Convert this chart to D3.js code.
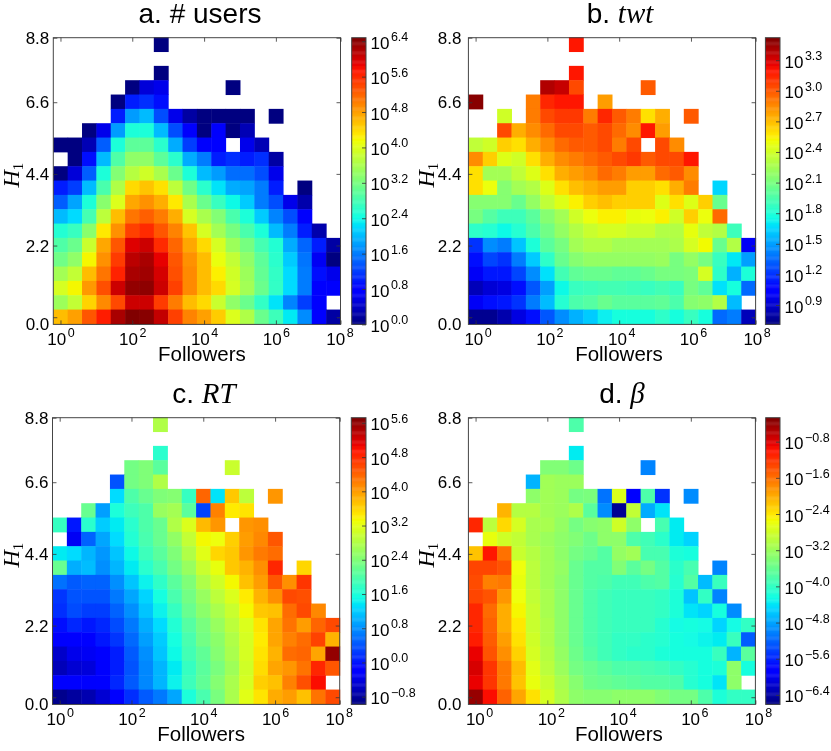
<!DOCTYPE html>
<html><head><meta charset="utf-8">
<script src="https://cdnjs.cloudflare.com/ajax/libs/d3/7.8.5/d3.min.js"></script>
<style>html,body{margin:0;background:#fff}svg{display:block}</style></head>
<body><svg id="c" width="831" height="751"></svg>
<script>
const _ = null;
// log10 values, rows from top (H1 8.36-8.8) to bottom (0-0.44), 20 follower bins
const usersLog = [
[_,_,_,_,_,_,_,0,_,_,_,_,_,_,_,_,_,_,_,_],
[_,_,_,_,_,_,_,_,_,_,_,_,_,_,_,_,_,_,_,_],
[_,_,_,_,_,_,_,0,_,_,_,_,_,_,_,_,_,_,_,_],
[_,_,_,_,_,0,0.5,0.6,_,_,_,_,0,_,_,_,_,_,_,_],
[_,_,_,_,0,1.0,1.1,0.9,_,_,_,_,_,_,_,_,_,_,_,_],
[_,_,_,_,1.0,1.8,2.0,1.3,0.6,0.2,0,0,0,0,_,0,_,_,_,_],
[_,_,0,0.6,1.8,2.5,2.5,2.0,1.3,0.7,0,0.7,0,0.3,_,_,_,_,_,_],
[0,0,0.3,1.4,2.5,3.0,3.0,2.6,1.9,1.2,0.7,0.8,_,0.6,0.3,_,_,_,_,_],
[_,0,0.9,2.0,2.9,3.4,3.4,3.0,2.6,1.9,1.6,1.0,1.1,1.0,1.1,0.2,_,_,_,_],
[0,0.5,1.4,2.5,3.3,3.7,3.9,3.6,3.1,2.5,2.0,1.8,1.5,1.5,1.3,0.6,_,_,_,_],
[1.0,1.2,2.0,2.85,3.65,4.4,4.55,4.35,3.75,3.15,2.6,2.25,1.9,1.85,1.6,1.0,_,0,_,_],
[1.4,1.85,2.5,3.35,4.0,4.75,4.9,4.7,4.3,3.6,3.1,2.7,2.4,2.1,1.6,1.3,0.6,0.25,_,_],
[2.0,2.2,2.8,3.75,4.6,5.1,5.25,5.05,4.7,3.95,3.6,3.3,2.85,2.5,2.1,1.65,1.3,0.7,_,_],
[2.55,2.7,3.35,4.3,4.9,5.45,5.6,5.3,5.0,4.55,3.95,3.55,3.2,2.85,2.5,2.0,1.6,1.0,0.25,_],
[2.9,3.1,3.85,4.75,5.3,5.95,6.05,5.6,5.2,4.75,4.4,3.95,3.5,3.2,2.8,2.55,1.9,1.45,1.0,0.2],
[3.15,3.4,4.2,4.9,5.5,6.15,6.25,5.9,5.3,4.9,4.6,4.1,3.8,3.4,3.0,2.6,2.1,1.55,0.65,0],
[3.55,3.8,4.6,5.1,5.65,6.25,6.3,6.0,5.35,4.95,4.6,4.25,3.9,3.5,3.05,2.65,2.2,1.6,0.9,0.6],
[3.95,4.2,4.85,5.35,6.05,6.37,6.4,6.05,5.45,4.95,4.6,4.4,3.95,3.55,3.1,2.65,2.2,1.6,0.8,0.7],
[3.5,3.8,4.45,4.95,5.4,6.05,6.05,5.5,5.05,4.6,4.4,3.85,3.4,3.1,2.65,2.25,1.65,1.2,0.75,_],
[4.6,4.8,5.3,5.7,6.25,6.47,6.43,6.1,5.45,5.0,4.8,4.5,4.0,3.65,3.1,2.75,2.3,1.7,0.8,0.2]];
const twtLog = [
[_,_,_,_,_,_,_,3.2,_,_,_,_,_,_,_,_,_,_,_,_],
[_,_,_,_,_,_,_,_,_,_,_,_,_,_,_,_,_,_,_,_],
[_,_,_,_,_,_,_,3.2,_,_,_,_,_,_,_,_,_,_,_,_],
[_,_,_,_,_,3.4,3.35,3.05,_,_,_,_,3.0,_,_,_,_,_,_,_],
[3.5,_,_,_,2.9,3.15,3.2,3.2,_,2.8,_,_,_,_,_,_,_,_,_,_],
[_,_,2.4,_,2.9,3.05,3.1,3.1,2.9,3.15,3.0,2.9,2.6,2.75,_,3.0,_,_,_,_],
[_,_,3.05,2.75,2.85,2.95,3.05,3.05,3.0,3.05,2.95,2.85,3.2,2.8,_,_,_,_,_,_],
[2.35,2.4,2.65,2.6,2.75,2.85,2.95,3.0,3.0,3.05,2.9,3.05,_,3.05,2.85,_,_,_,_,_],
[2.85,2.65,2.45,2.4,2.6,2.75,2.85,2.9,2.95,3.0,3.05,3.1,3.0,3.05,3.05,3.2,_,_,_,_],
[2.6,2.25,2.25,2.35,2.45,2.6,2.75,2.8,2.85,2.95,2.9,2.8,2.8,2.95,3.0,2.85,_,_,_,_],
[2.6,2.5,2.15,2.25,2.3,2.45,2.6,2.7,2.75,2.8,2.8,2.65,2.65,2.6,2.75,2.9,_,1.65,_,_],
[2.15,2.15,2.15,2.05,2.2,2.35,2.45,2.55,2.65,2.7,2.65,2.65,2.65,2.45,2.6,2.45,2.65,2.05,_,_],
[2.1,1.98,1.9,1.9,2.0,2.15,2.25,2.4,2.5,2.55,2.55,2.48,2.5,2.55,2.4,2.65,2.5,2.95,_,_],
[1.85,1.82,1.75,1.82,1.95,2.08,2.2,2.3,2.38,2.42,2.42,2.38,2.38,2.3,2.3,2.48,2.35,2.3,1.9,_],
[1.2,1.45,1.4,1.6,1.8,2.0,2.1,2.25,2.3,2.3,2.25,2.25,2.25,2.25,2.28,2.42,2.52,2.05,2.3,1.0],
[1.1,1.25,1.2,1.4,1.62,1.85,2.05,2.15,2.2,2.2,2.2,2.2,2.2,2.22,2.1,2.2,2.1,1.88,1.7,1.5],
[1.0,1.12,1.12,1.25,1.45,1.68,1.92,2.02,2.05,2.05,2.02,2.02,2.05,2.1,2.1,2.12,2.42,1.85,1.55,1.8],
[0.85,0.92,0.95,1.1,1.3,1.5,1.75,1.88,1.9,1.92,1.92,1.9,1.88,1.92,1.88,2.1,2.02,1.68,1.78,1.35],
[1.0,1.08,1.12,1.2,1.4,1.58,1.82,1.95,1.98,2.05,2.0,2.0,2.0,2.02,1.95,2.15,2.18,2.3,1.58,_],
[0.75,0.75,0.82,0.95,1.1,1.3,1.45,1.55,1.62,1.72,1.78,1.78,1.78,1.85,1.78,1.88,1.78,1.35,1.4,0.85]];
const rtLog = [
[_,_,_,_,_,_,_,2.8,_,_,_,_,_,_,_,_,_,_,_,_],
[_,_,_,_,_,_,_,_,_,_,_,_,_,_,_,_,_,_,_,_],
[_,_,_,_,_,_,_,1.7,_,_,_,_,_,_,_,_,_,_,_,_],
[_,_,_,_,_,2.3,2.4,2.1,_,_,_,_,3.0,_,_,_,_,_,_,_],
[_,_,_,_,0.4,2.3,2.4,2.8,_,_,_,_,_,_,_,_,_,_,_,_],
[_,_,_,_,1.3,2.0,2.2,2.4,2.45,1.8,4.4,1.35,3.7,2.9,_,4.05,_,_,_,_],
[_,_,2.2,0.9,1.6,1.85,2.0,2.6,2.7,2.1,0.3,4.2,3.45,3.5,_,_,_,_,_,_],
[1.8,0.0,1.7,1.2,1.4,1.7,2.0,2.2,2.8,3.15,3.8,4.05,_,4.05,4.1,_,_,_,_,_],
[_,-0.3,0.5,0.95,1.3,1.65,1.95,2.2,2.55,2.95,3.35,3.3,3.65,4.0,4.15,4.5,_,_,_,_],
[1.4,1.3,1.05,0.85,1.15,1.5,1.85,2.1,2.4,2.8,3.2,3.6,3.7,4.05,4.25,4.35,_,_,_,_],
[2.2,1.0,1.1,0.8,1.05,1.4,1.7,1.95,2.3,2.6,3.0,3.25,3.7,3.85,4.1,4.85,_,3.6,_,_],
[0.6,0.45,0.5,0.5,0.8,1.15,1.45,1.75,2.1,2.4,2.8,3.05,3.35,3.75,4.0,4.5,4.1,4.75,_,_],
[0.2,0.4,0.4,0.4,0.65,0.95,1.25,1.55,1.95,2.3,2.6,2.9,3.15,3.45,3.85,4.1,4.6,4.55,_,_],
[0.15,0.35,0.25,0.25,0.5,0.8,1.15,1.45,1.8,2.2,2.5,2.75,3.0,3.35,3.7,3.75,4.35,4.6,4.15,_],
[-0.05,0.1,0,0.1,0.35,0.65,1.0,1.3,1.65,2.05,2.35,2.6,2.9,3.15,3.5,3.95,4.3,4.0,4.4,4.6],
[-0.25,-0.15,-0.1,0.0,0.2,0.55,0.9,1.2,1.55,1.95,2.3,2.5,2.8,3.1,3.45,3.95,4.2,4.35,4.65,3.85],
[-0.55,-0.35,-0.3,-0.2,0.05,0.45,0.8,1.15,1.5,1.9,2.15,2.45,2.75,3.1,3.5,3.85,4.35,4.4,3.95,5.6],
[-0.65,-0.5,-0.45,-0.25,0.05,0.4,0.75,1.05,1.4,1.8,2.1,2.35,2.65,3.05,3.55,3.95,4.05,4.3,4.85,4.5],
[-0.25,-0.25,-0.25,-0.2,0.1,0.45,0.75,1.05,1.45,1.85,2.15,2.45,2.75,3.1,3.65,3.75,4.2,4.55,5.0,_],
[-0.9,-0.8,-0.7,-0.5,-0.2,0.15,0.45,0.65,0.95,1.6,1.95,2.35,2.75,3.2,3.5,3.9,4.0,3.75,4.3,4.6]];
const betaLog = [
[_,_,_,_,_,_,_,-3.8,_,_,_,_,_,_,_,_,_,_,_,_],
[_,_,_,_,_,_,_,_,_,_,_,_,_,_,_,_,_,_,_,_],
[_,_,_,_,_,_,_,-4.35,_,_,_,_,_,_,_,_,_,_,_,_],
[_,_,_,_,_,-3.4,-3.4,-3.55,_,_,_,_,-5.0,_,_,_,_,_,_,_],
[_,_,_,_,-4.7,-3.15,-3.2,-3.2,_,_,_,_,_,_,_,_,_,_,_,_],
[_,_,_,_,-3.3,-3.15,-3.2,-3.5,-3.45,-5.1,-2.7,-5.9,-3.8,-5.5,_,-4.95,_,_,_,_],
[_,_,-2.05,-3.0,-3.0,-3.15,-3.2,-3.05,-3.7,-4.95,-6.5,-2.9,-4.75,-4.4,_,_,_,_,_,_],
[-1.1,-2.95,-2.3,-2.75,-3.1,-3.1,-3.25,-3.5,-3.35,-3.3,-2.8,-3.3,_,-3.85,-4.35,_,_,_,_,_],
[_,-2.6,-2.8,-2.9,-3.1,-3.2,-3.3,-3.4,-3.55,-3.3,-3.3,-3.8,-3.9,-4.05,-4.35,-4.5,_,_,_,_],
[-2.15,-1.0,-1.6,-2.85,-3.0,-3.15,-3.3,-3.5,-3.6,-3.75,-3.25,-3.15,-3.85,-3.85,-4.15,-4.2,_,_,_,_],
[-1.3,-1.3,-1.4,-2.55,-2.95,-3.15,-3.25,-3.6,-3.75,-3.75,-3.4,-3.7,-3.5,-3.75,-4.05,-3.85,_,-5.0,_,_],
[-1.35,-1.7,-1.65,-2.6,-2.95,-3.15,-3.3,-3.6,-3.75,-3.8,-3.9,-3.9,-3.8,-3.75,-4.1,-3.75,-4.65,-3.95,_,_],
[-1.3,-1.4,-1.85,-2.55,-2.9,-3.1,-3.3,-3.6,-3.8,-3.9,-3.95,-3.95,-3.95,-4.0,-4.15,-4.6,-4.0,-5.0,_,_],
[-1.1,-1.55,-2.0,-2.5,-2.85,-3.1,-3.3,-3.6,-3.8,-3.9,-3.95,-3.95,-3.95,-4.0,-4.15,-4.4,-4.5,-4.2,-4.95,_],
[-1.1,-1.5,-2.0,-2.4,-2.85,-3.05,-3.3,-3.6,-3.8,-3.9,-3.95,-3.95,-3.95,-4.1,-4.25,-4.2,-4.25,-4.5,-4.25,-4.0],
[-1.05,-1.45,-1.9,-2.35,-2.8,-3.05,-3.3,-3.6,-3.8,-3.9,-4.0,-4.0,-4.05,-4.1,-4.2,-4.25,-4.3,-4.35,-3.95,-5.25],
[-0.85,-1.4,-1.8,-2.25,-2.75,-3.0,-3.25,-3.55,-3.75,-3.9,-4.0,-4.05,-4.05,-4.15,-4.2,-4.2,-4.2,-3.95,-4.7,-3.7],
[-0.75,-1.2,-1.65,-2.1,-2.65,-2.95,-3.2,-3.5,-3.6,-3.7,-3.8,-3.8,-3.85,-3.9,-4.0,-4.1,-4.2,-4.15,-3.3,-4.2],
[-0.85,-1.2,-1.65,-2.15,-2.6,-2.85,-3.1,-3.35,-3.55,-3.6,-3.65,-3.7,-3.75,-3.75,-3.8,-4.1,-4.2,-4.4,-3.3,_],
[-0.4,-0.95,-1.5,-1.95,-2.35,-2.75,-3.05,-3.3,-3.35,-3.35,-3.3,-3.3,-3.3,-3.4,-3.5,-3.5,-3.8,-4.15,-4.0,-4.0]];

const xTickExp = ["0","2","4","6","8"];
const yTickLabels = ["0.0","2.2","4.4","6.6","8.8"];
const tickBins = [0.5,5.5,10.5,15.5,20];
const usersTicks = [0.0,0.8,1.6,2.4,3.2,4.0,4.8,5.6,6.4];
const twtTicks = [0.9,1.2,1.5,1.8,2.1,2.4,2.7,3.0,3.3];
const rtTicks = [-0.8,0.0,0.8,1.6,2.4,3.2,4.0,4.8,5.6];
const betaTicks = [-6.4,-5.6,-4.8,-4.0,-3.2,-2.4,-1.6,-0.8];

const panels = [
 {pre:"a. ",name:"# users",it:false,d:usersLog,ticks:usersTicks,dom:[0,6.48],x:[53.3,340.5],y:[37.7,324.4],cb:[351.7,366],tx:200,ty:22.5,lx:0,ylp:4,fx:5},
 {pre:"b. ",name:"twt",it:true,d:twtLog,ticks:twtTicks,dom:[0.71,3.52],x:[468.4,755.6],y:[37.7,324.4],cb:[765.4,780],tx:620,ty:22.5,lx:2,ylp:7,fx:7},
 {pre:"c. ",name:"RT",it:true,d:rtLog,ticks:rtTicks,dom:[-0.98,5.72],x:[52.5,339.7],y:[417.7,704.4],cb:[351.3,366],tx:204,ty:403,lx:0,ylp:4,fx:5},
 {pre:"d. ",name:"\u03b2",it:true,d:betaLog,ticks:betaTicks,dom:[-6.61,-0.27],x:[468.4,755.4],y:[417.7,704.4],cb:[765.7,780],tx:622,ty:403,lx:3.5,ylp:7,fx:7}
];
const jetStops = {
 r:[[0,0],[0.35,0],[0.66,1],[0.89,1],[1,0.5]],
 g:[[0,0],[0.125,0],[0.375,1],[0.64,1],[0.91,0],[1,0]],
 b:[[0,0.5],[0.11,1],[0.34,1],[0.65,0],[1,0]]};
const ch = k => d3.scaleLinear().domain(jetStops[k].map(s=>s[0])).range(jetStops[k].map(s=>s[1]*255)).clamp(true);
const R=ch('r'),G=ch('g'),B=ch('b');
const jet = t => `rgb(${Math.round(R(t))},${Math.round(G(t))},${Math.round(B(t))})`;

const svg = d3.select("#c");
svg.append("defs").append("filter").attr("id","soft").attr("filterUnits","userSpaceOnUse")
  .attr("x",0).attr("y",0).attr("width",831).attr("height",751)
  .append("feGaussianBlur").attr("stdDeviation",0.35);
const SANS = "'Liberation Sans',Arial,sans-serif", SERIF="'Liberation Serif','Times New Roman',serif";

function sup(sel, exp){
  sel.text(null).attr("font-family",SANS).attr("fill","#000");
  sel.append("tspan").attr("font-size",17).text("10");
  sel.append("tspan").attr("font-size",12.5).attr("dx",1.5).attr("dy",-7.5).text(exp);
}
panels.forEach(p=>{
  const g = svg.append("g").attr("filter","url(#soft)");
  const x = d3.scaleLinear().domain([0,20]).range(p.x);
  const y = d3.scaleLinear().domain([0,20]).range([p.y[1],p.y[0]]);
  const col = d3.scaleLinear().domain(p.dom).range([0,1]);
  const cells=[];
  p.d.forEach((row,ri)=>row.forEach((v,ci)=>{ if(v!==null) cells.push({v,ci,r:19-ri}); }));
  g.selectAll("rect.c").data(cells).join("rect").attr("class","c")
    .attr("x",d=>x(d.ci)).attr("width",d=>x(d.ci+1)-x(d.ci)+0.5)
    .attr("y",d=>y(d.r+1)-0.5).attr("height",d=>y(d.r)-y(d.r+1)+0.5)
    .attr("fill",d=>jet(col(d.v)));
  g.append("rect").attr("x",p.x[0]).attr("y",p.y[0]).attr("width",p.x[1]-p.x[0]).attr("height",p.y[1]-p.y[0])
    .attr("fill","none").attr("stroke","#444").attr("stroke-width",1);
  const ax = g.append("g").attr("transform",`translate(0,${p.y[1]})`)
    .call(d3.axisBottom(x).tickValues(tickBins).tickSize(-4));
  ax.select(".domain").remove();
  ax.selectAll("text").each(function(d,i){ sup(d3.select(this),xTickExp[i]); })
    .attr("text-anchor","middle").attr("y",20.5).attr("dy",0)
    .attr("x",(d,i)=>i===4?p.lx-1:p.lx);
  const ay = g.append("g").attr("transform",`translate(${p.x[0]},0)`)
    .call(d3.axisLeft(y).tickValues(tickBins).tickFormat((d,i)=>yTickLabels[i]).tickSize(-4).tickPadding(p.ylp));
  ay.select(".domain").remove();
  ay.selectAll("text").attr("font-family",SANS).attr("font-size",17).attr("fill","#000")
    .attr("y",(d,i)=>i===0?7.2:0);
  const ayr = g.append("g").attr("transform",`translate(${p.x[1]},0)`)
    .call(d3.axisRight(y).tickValues(tickBins).tickFormat("").tickSize(-4));
  ayr.select(".domain").remove();
  const axt = g.append("g").attr("transform",`translate(0,${p.y[0]})`)
    .call(d3.axisTop(x).tickValues(tickBins).tickFormat("").tickSize(-4));
  axt.select(".domain").remove();
  g.selectAll(".tick line").attr("stroke","#333").attr("stroke-width",0.8);
  g.append("text").attr("x",(p.x[0]+p.x[1])/2+p.fx).attr("y",p.y[1]+36.3).attr("text-anchor","middle")
    .attr("font-family",SANS).attr("font-size",20.5).text("Followers");
  const yl = g.append("text").attr("transform",`translate(${p.x[0]-34},${(p.y[0]+p.y[1])/2-6}) rotate(-90)`)
    .attr("text-anchor","middle").attr("font-family",SERIF).attr("font-size",24);
  yl.append("tspan").attr("font-style","italic").text("H");
  yl.append("tspan").attr("font-size",15).attr("dy",4).text("1");
  const t = g.append("text").attr("x",p.tx).attr("y",p.ty).attr("text-anchor","middle");
  t.append("tspan").attr("font-family",SANS).attr("font-size",28).text(p.pre);
  t.append("tspan").attr("font-family",p.it?SERIF:SANS).attr("font-style",p.it?"italic":"normal").attr("font-size",p.it?29:28).text(p.name);
  const cy = d3.scaleLinear().domain(p.dom).range([p.y[1],p.y[0]]);
  const steps = d3.range(256);
  g.selectAll("rect.b").data(steps).join("rect").attr("class","b")
    .attr("x",p.cb[0]).attr("width",p.cb[1]-p.cb[0])
    .attr("y",i=>p.y[1]-(i+1)/256*(p.y[1]-p.y[0])).attr("height",(p.y[1]-p.y[0])/256+0.4)
    .attr("fill",i=>jet(i/255));
  g.append("rect").attr("x",p.cb[0]).attr("y",p.y[0]).attr("width",p.cb[1]-p.cb[0]).attr("height",p.y[1]-p.y[0])
    .attr("fill","none").attr("stroke","#444").attr("stroke-width",1);
  const ac = g.append("g").attr("transform",`translate(${p.cb[1]},0)`)
    .call(d3.axisRight(cy).tickValues(p.ticks).tickSize(-4));
  ac.select(".domain").remove();
  ac.selectAll(".tick line").attr("stroke","#333").attr("stroke-width",0.8);
  ac.selectAll("text").each(function(d){ sup(d3.select(this),(d<0?"\u2212":"")+Math.abs(d).toFixed(1)); }).attr("x",4.5).attr("dy",7);
});
</script></body></html>
